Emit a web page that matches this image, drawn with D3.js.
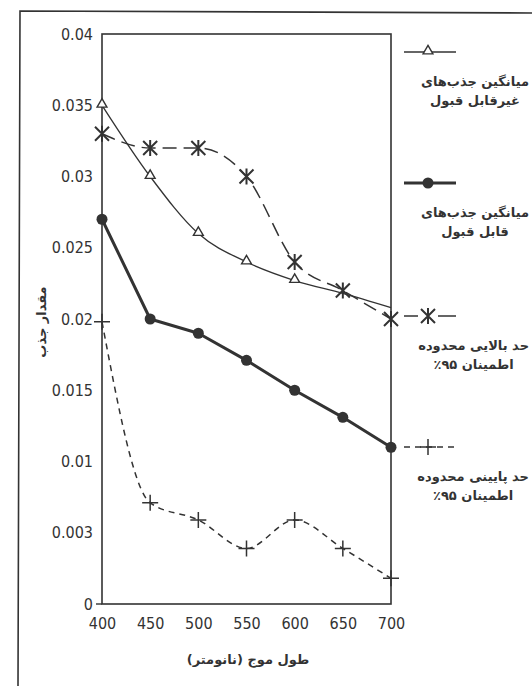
<!DOCTYPE html>
<html>
<head>
<meta charset="utf-8">
<script src="https://cdn.jsdelivr.net/npm/d3@7"></script>
<style>
  html, body { margin: 0; padding: 0; background: #fff; }
  svg { display: block; }
</style>
</head>
<body>
<div id="chart"></div>
<script>
// wavelength (nm) on the x axis
const wavelengths = [400, 450, 500, 550, 600, 650, 700];

// absorbance values
const unacceptableMean = [0.035, 0.030, 0.026, 0.024, 0.0227, 0.0218, 0.0208];
const upperLimit       = [0.033, 0.032, 0.032, 0.030, 0.024, 0.022, 0.020];
const acceptableMean   = [0.027, 0.020, 0.019, 0.0171, 0.015, 0.0131, 0.011];
const lowerLimit       = [0.0198, 0.0071, 0.0059, 0.0039, 0.0059, 0.0039, 0.0018];

// y ticks (the original print labels the 0.005 tick as "0.003")
const yTickValues = [0, 0.005, 0.01, 0.015, 0.02, 0.025, 0.03, 0.035, 0.04];
const yTickLabels = ['0', '0.003', '0.01', '0.015', '0.02', '0.025', '0.03', '0.035', '0.04'];

const legendLabels = [
  ['میانگین جذب‌های', 'غیرقابل قبول'],
  ['میانگین جذب‌های', 'قابل قبول'],
  ['حد بالایی محدوده', 'اطمینان ۹۵٪'],
  ['حد پایینی محدوده', 'اطمینان ۹۵٪']
];
const xTitle = 'طول موج (نانومتر)';
const yTitle = 'مقدار جذب';

const width = 532;
const height = 686;
const ink = '#333';
const numFont = '"DejaVu Sans Condensed", "DejaVu Sans", sans-serif';
const faFont = '"DejaVu Sans", sans-serif';

const svg = d3.select('#chart')
  .append('svg')
  .attr('width', width)
  .attr('height', height);

// outer frame of the scanned page (top and left edges only)
svg.append('path')
  .attr('d', `M532,13 L20,11 L18,686`)
  .attr('fill', 'none')
  .attr('stroke', ink)
  .attr('stroke-width', 1.6);

const x = d3.scaleLinear().domain([400, 700]).range([102, 391]);
const y = d3.scaleLinear().domain([0, 0.04]).range([604, 34]);

// plot box
svg.append('rect')
  .attr('x', x(400))
  .attr('y', y(0.04))
  .attr('width', x(700) - x(400))
  .attr('height', y(0) - y(0.04))
  .attr('fill', 'none')
  .attr('stroke', ink)
  .attr('stroke-width', 1.6);

// axes
const xAxis = svg.append('g')
  .attr('transform', `translate(0,${y(0)})`)
  .call(d3.axisBottom(x).tickValues(wavelengths).tickSize(0).tickPadding(14).tickFormat(d3.format('d')));
xAxis.select('.domain').remove();
xAxis.selectAll('text')
  .attr('font-family', numFont)
  .attr('font-size', 16)
  .attr('fill', ink);

const yAxis = svg.append('g')
  .attr('transform', `translate(${x(400)},0)`)
  .call(d3.axisLeft(y).tickValues(yTickValues).tickSize(0).tickPadding(9)
    .tickFormat((d, i) => yTickLabels[i]));
yAxis.select('.domain').remove();
yAxis.selectAll('text')
  .attr('font-family', numFont)
  .attr('font-size', 16)
  .attr('fill', ink);

// small stub at the origin
svg.append('line')
  .attr('x1', x(400) - 6).attr('x2', x(400))
  .attr('y1', y(0)).attr('y2', y(0))
  .attr('stroke', ink).attr('stroke-width', 1.4);

// axis titles
svg.append('text')
  .attr('x', 248)
  .attr('y', 664)
  .attr('text-anchor', 'middle')
  .attr('direction', 'rtl')
  .attr('font-family', faFont)
  .attr('font-weight', 'bold')
  .attr('font-size', 13)
  .attr('fill', ink)
  .text(xTitle);

svg.append('text')
  .attr('transform', 'translate(46,322) rotate(-90)')
  .attr('text-anchor', 'middle')
  .attr('direction', 'rtl')
  .attr('font-family', faFont)
  .attr('font-weight', 'bold')
  .attr('font-size', 13)
  .attr('fill', ink)
  .text(yTitle);

// marker shapes
const triangle = d3.symbol().type(d3.symbolTriangle).size(42);
const asteriskPath = 'M0,-8 L0,8 M-7,-7 L7,7 M-7,7 L7,-7';
const plusPath = 'M-8,0 L8,0 M0,-8 L0,8';

// hideFrom: the printed figure shows no triangle from 650 nm on (covered by the other curve / axis)
const series = [
  { values: unacceptableMean, width: 1.3, dash: null, curve: d3.curveMonotoneX, marker: 'triangle', hideFrom: 650 },
  { values: acceptableMean, width: 3, dash: null, curve: d3.curveLinear, marker: 'circle' },
  { values: upperLimit, width: 1.5, dash: '14,7', curve: d3.curveMonotoneX, marker: 'asterisk' },
  { values: lowerLimit, width: 1.5, dash: '6,5', curve: d3.curveMonotoneX, marker: 'plus' }
];

function drawMarker(g, type) {
  if (type === 'triangle') {
    g.append('path').attr('d', triangle()).attr('transform', 'translate(0,-1)')
      .attr('fill', '#fff').attr('stroke', ink).attr('stroke-width', 1.4);
  } else if (type === 'circle') {
    g.append('circle').attr('r', 5.5).attr('fill', ink);
  } else if (type === 'asterisk') {
    g.append('path').attr('d', asteriskPath).attr('fill', 'none')
      .attr('stroke', ink).attr('stroke-width', 2);
  } else {
    g.append('path').attr('d', plusPath).attr('fill', 'none')
      .attr('stroke', ink).attr('stroke-width', 1.5);
  }
}

series.forEach(s => {
  const pts = wavelengths.map((w, i) => [w, s.values[i]]);
  const line = d3.line()
    .x(d => x(d[0]))
    .y(d => y(d[1]))
    .curve(s.curve);

  svg.append('path')
    .datum(pts)
    .attr('d', line)
    .attr('fill', 'none')
    .attr('stroke', ink)
    .attr('stroke-width', s.width)
    .attr('stroke-dasharray', s.dash)
    .attr('stroke-linejoin', 'round');

  pts.forEach(p => {
    if (s.hideFrom && p[0] >= s.hideFrom) return;
    const g = svg.append('g').attr('transform', `translate(${x(p[0])},${y(p[1])})`);
    drawMarker(g, s.marker);
  });
});

// legend on the right
const legendY = [52, 183, 316, 447];
const legendTextX = [478, 480, 490, 490];
series.forEach((s, i) => {
  const ly = legendY[i];
  svg.append('line')
    .attr('x1', 404).attr('x2', 456)
    .attr('y1', ly).attr('y2', ly)
    .attr('stroke', ink)
    .attr('stroke-width', s.width)
    .attr('stroke-dasharray', s.marker === 'asterisk' ? '14,20,18' : s.dash);
  const g = svg.append('g').attr('transform', `translate(428,${ly})`);
  drawMarker(g, s.marker);

  const texts = legendLabels[i].map((txt, j) => svg.append('text')
    .attr('x', legendTextX[i])
    .attr('y', ly + 34 + j * 19)
    .attr('text-anchor', 'middle')
    .attr('direction', 'rtl')
    .attr('font-family', faFont)
    .attr('font-weight', 'bold')
    .attr('font-size', 13)
    .attr('fill', ink)
    .text(txt));

  // keep the widest line inside the page
  const maxW = d3.max(texts, t => t.node().getComputedTextLength());
  const cx = Math.min(legendTextX[i], width - 3 - maxW / 2);
  texts.forEach(t => t.attr('x', cx));
});
</script>
</body>
</html>
